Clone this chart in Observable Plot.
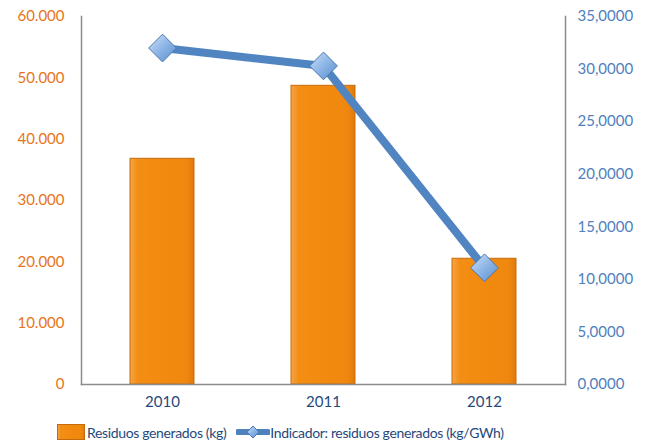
<!DOCTYPE html>
<html>
<head>
<meta charset="utf-8">
<script src="https://cdn.jsdelivr.net/npm/d3@7"></script>
<script src="https://cdn.jsdelivr.net/npm/@observablehq/plot@0.6"></script>
<style>
  html, body { margin: 0; padding: 0; background: #fff; }
  body { width: 648px; height: 447px; overflow: hidden; font-family: Lato, "Open Sans", sans-serif; }
  #legend { display: flex; align-items: center; height: 34px; padding-left: 57px; font-size: 14px; letter-spacing: -0.35px; color: #1F497D; }
  #legend .item { display: flex; align-items: center; }
  #legend svg { display: block; }
</style>
</head>
<body>
<svg width="0" height="0" style="position:absolute">
  <defs>
    <linearGradient id="barFill" x1="0" x2="1" y1="0" y2="0">
      <stop offset="0" stop-color="#F7A445"/>
      <stop offset="0.12" stop-color="#F38E14"/>
      <stop offset="0.5" stop-color="#F28A0F"/>
      <stop offset="0.88" stop-color="#F08810"/>
      <stop offset="1" stop-color="#E07A0A"/>
    </linearGradient>
    <linearGradient id="diamondFill" x1="0" x2="1" y1="0" y2="1">
      <stop offset="0" stop-color="#CFE1F6"/>
      <stop offset="0.5" stop-color="#8DB5E6"/>
      <stop offset="1" stop-color="#5A8DCB"/>
    </linearGradient>
  </defs>
</svg>
<div id="chart"></div>
<div id="legend">
  <div class="item">
    <svg width="29" height="16"><rect x="0.5" y="0.5" width="27" height="15" fill="url(#barFill)" stroke="#C46C0C"/></svg>
    <span style="margin-left:1px">Residuos generados (kg)</span>
  </div>
  <div class="item" style="margin-left:10px">
    <svg width="34" height="16"><line x1="2" x2="32" y1="8" y2="8" stroke="#4F81BD" stroke-width="6" stroke-linecap="round"/><path d="M17,2 L23,8 L17,14 L11,8 Z" fill="url(#diamondFill)" stroke="#4A78B0"/></svg>
    <span style="margin-left:0px">Indicador: residuos generados (kg/GWh)</span>
  </div>
</div>
<script>
// Years on the category axis
const years = ["2010", "2011", "2012"];
// Waste generated, kg (left axis)
const residuos = [36800, 48700, 20500];
// Indicator, kg/GWh (right axis)
const indicador = [32.0, 30.3, 11.1];
// Tick values for both axes
const leftTicks = [0, 10000, 20000, 30000, 40000, 50000, 60000];
const rightTicks = [0, 5, 10, 15, 20, 25, 30, 35];

const leftMax = 60000, rightMax = 35;
const k = leftMax / rightMax; // maps right-axis units onto the shared y scale

const es = d3.formatLocale({decimal: ",", thousands: ".", grouping: [3], currency: ["", "€"]});
const fmtL = es.format(",");
const fmtR = es.format(",.4f");

const data = years.map((year, i) => ({year, kg: residuos[i], ind: indicador[i]}));

const chart = Plot.plot({
  width: 648,
  height: 415,
  marginTop: 16,
  marginBottom: 31,
  marginLeft: 81,
  marginRight: 83,
  style: {fontFamily: "Lato, 'Open Sans', sans-serif", fontSize: "15px", background: "#fff"},
  x: {domain: years, paddingInner: 0.6, paddingOuter: 0.3},
  y: {domain: [0, leftMax]},
  marks: [
    Plot.barY(data, {
      x: "year", y: "kg",
      fill: "url(#barFill)", stroke: "#C46C0C", strokeWidth: 1,
      style: {filter: "drop-shadow(2px 2px 2px rgba(0,0,0,0.25))"}
    }),
    Plot.frame({anchor: "left", stroke: "#8C8C8C", strokeWidth: 1.5}),
    Plot.frame({anchor: "right", stroke: "#8C8C8C", strokeWidth: 1.5}),
    Plot.frame({anchor: "bottom", stroke: "#8C8C8C", strokeWidth: 1.5}),
    Plot.line(data, {
      x: "year", y: d => d.ind * k,
      stroke: "#5185C2", strokeWidth: 8, strokeLinejoin: "round"
    }),
    Plot.dot(data, {
      x: "year", y: d => d.ind * k,
      symbol: "diamond2", r: 12.5,
      fill: "url(#diamondFill)", stroke: "#4A78B0", strokeWidth: 1,
      style: {filter: "drop-shadow(1px 2px 1.5px rgba(0,0,0,0.3))"}
    }),
    Plot.axisY({
      anchor: "left", ticks: leftTicks, tickFormat: fmtL,
      tickSize: 0, tickPadding: 17, color: "#E8741A", label: null
    }),
    Plot.axisY({
      anchor: "right", ticks: rightTicks.map(v => v * k), tickFormat: d => fmtR(d / k),
      tickSize: 0, tickPadding: 12, color: "#4F81BD", label: null
    }),
    Plot.axisX({
      tickSize: 0, tickPadding: 12, color: "#1F497D", label: null
    })
  ]
});
document.getElementById("chart").append(chart);
</script>
</body>
</html>
